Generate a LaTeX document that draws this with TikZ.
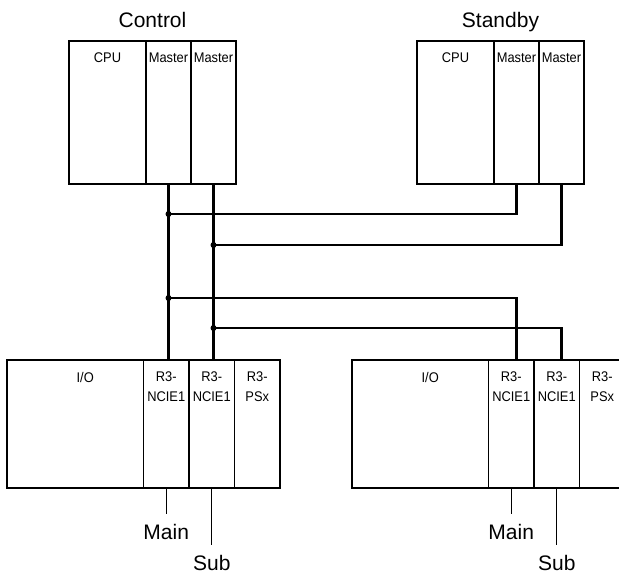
\documentclass[tikz,border=0pt]{standalone}
\usepackage{fontspec}
\setmainfont{Liberation Sans}
\newfontfamily\unitfont[FakeStretch=0.92]{Liberation Sans}
\usetikzlibrary{positioning}

\tikzset{
  unit/.style={draw, line width=1.2pt, inner sep=0pt, outer sep=0pt, anchor=north west},
  cpuunit/.style={unit, minimum width=77pt, minimum height=143pt},
  mstunit/.style={unit, minimum width=45pt, minimum height=143pt},
  iounit/.style={unit, minimum width=136.5pt, minimum height=128pt},
  slotunit/.style={unit, minimum width=45.5pt, minimum height=128pt},
  unittext/.style={font=\unitfont\fontsize{14}{20}\selectfont, align=center, inner sep=0pt,
    anchor=north, label distance=-12pt},
  station/.style={font=\fontsize{21}{24}\selectfont, inner sep=0pt, anchor=base},
  linename/.style={font=\fontsize{21}{24}\selectfont, inner xsep=0pt, inner ysep=10.5pt},
  bus/.style={line width=2.4pt},
  leader/.style={line width=0.8pt}
}

\begin{document}
\begin{tikzpicture}[x=1pt, y=-1pt]
    \useasboundingbox (0,0) rectangle (619,574);
    \clip (0,0) rectangle (619,574);

    % control and standby stations
    \node[cpuunit, label={[unittext]north:CPU}] (ctlcpu) at (69,41) {};
    \node[mstunit, right=0pt of ctlcpu, label={[unittext]north:Master}] (ctlmA) {};
    \node[mstunit, right=0pt of ctlmA, label={[unittext]north:Master}] (ctlmB) {};
    \node[station] (ctlT) at (152.5,27) {Control};

    \node[cpuunit, label={[unittext]north:CPU}] (stbcpu) at (417,41) {};
    \node[mstunit, right=0pt of stbcpu, label={[unittext]north:Master}] (stbmA) {};
    \node[mstunit, right=0pt of stbmA, label={[unittext]north:Master}] (stbmB) {};
    \node[station] (stbT) at (500.5,27) {Standby};

    % remote I/O stations
    \node[iounit, label={[unittext, xshift=10pt]north:I/O}] (ioL) at (7,360) {};
    \node[slotunit, right=0pt of ioL, label={[unittext]north:R3-\\NCIE1}] (ioLa) {};
    \node[slotunit, right=0pt of ioLa, label={[unittext]north:R3-\\NCIE1}] (ioLb) {};
    \node[slotunit, right=0pt of ioLb, label={[unittext]north:R3-\\PSx}] (ioLp) {};

    \node[iounit, label={[unittext, xshift=10pt]north:I/O}] (ioR) at (352,360) {};
    \node[slotunit, right=0pt of ioR, label={[unittext]north:R3-\\NCIE1}] (ioRa) {};
    \node[slotunit, right=0pt of ioRa, label={[unittext]north:R3-\\NCIE1}] (ioRb) {};
    \node[slotunit, right=0pt of ioRb, label={[unittext]north:R3-\\PSx}] (ioRp) {};

    % bus lines
    \path (ctlmA.south) ++(0,30) coordinate (jA1) ++(0,84) coordinate (jA2);
    \path (ctlmB.south) ++(0,61) coordinate (jB1) ++(0,83) coordinate (jB2);

    \draw[bus] (ctlmA.south) -- (ctlmA.south |- ioLa.north);
    \draw[bus] (ctlmB.south) -- (ctlmB.south |- ioLb.north);
    \draw[bus] (jA1) -| (stbmA.south);
    \draw[bus] (jB1) -| (stbmB.south);
    \draw[bus] (jA2) -| (stbmA.south |- ioRa.north);
    \draw[bus] (jB2) -| (stbmB.south |- ioRb.north);

    \foreach \j in {jA1,jB1,jA2,jB2}
    \fill (\j) circle (3pt);

    % main and sub lines
    \foreach \s in {L,R} {
        \node[linename, below=26pt of io\s a.south] (main\s) {Main};
        \node[linename, below=57pt of io\s b.south] (sub\s) {Sub};
        \draw[leader] (io\s a.south) -- (main\s.north);
        \draw[leader] (io\s b.south) -- (sub\s.north);
    }
\end{tikzpicture}
\end{document}
